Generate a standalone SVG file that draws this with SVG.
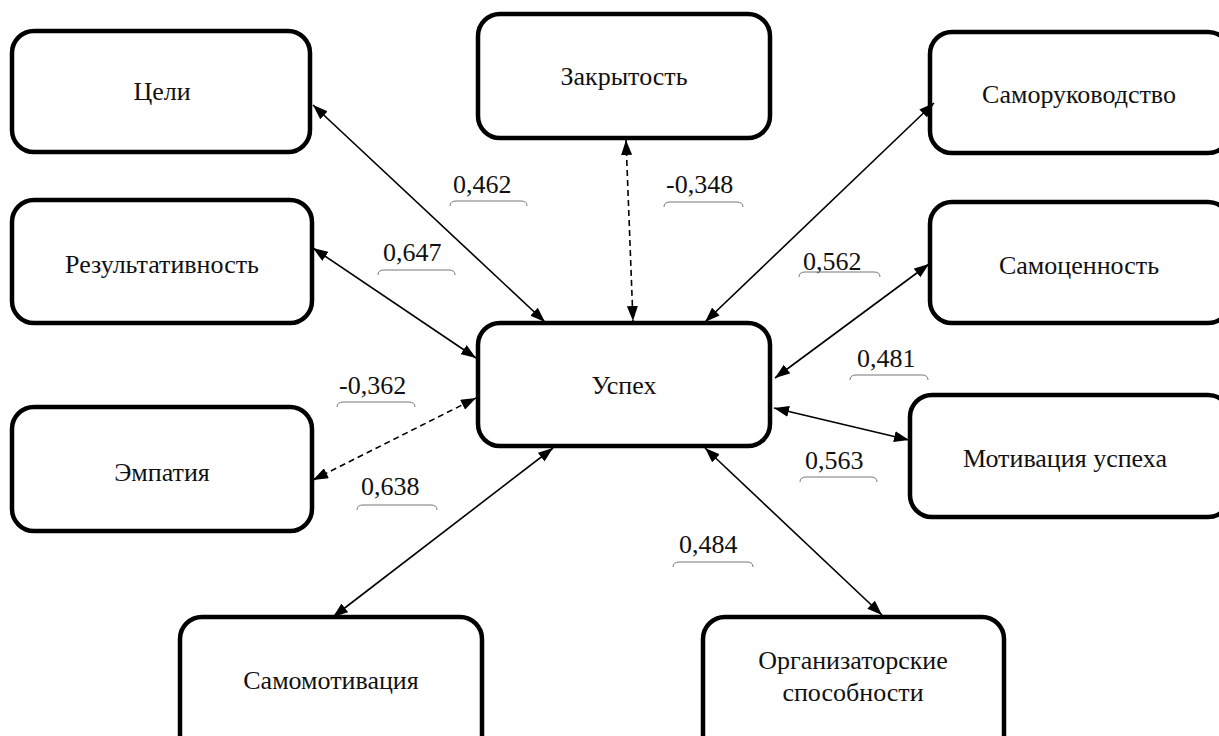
<svg xmlns="http://www.w3.org/2000/svg" width="1219" height="736" viewBox="0 0 1219 736">
<style>
.box{fill:#fff;stroke:#000;stroke-width:4.5}
.t{font-size:26px;fill:#111;text-anchor:middle}
.lbl{font-size:26px;fill:#111}
.br{fill:none;stroke:#777;stroke-width:1}
.c{stroke:#000;stroke-width:1.6;fill:none;marker-start:url(#ah);marker-end:url(#ah)}
.d{stroke-dasharray:6,4}
</style>
<defs>
<marker id="ah" viewBox="0 0 15 11" refX="15" refY="5.5" markerWidth="15" markerHeight="11" markerUnits="userSpaceOnUse" orient="auto-start-reverse">
<path d="M0,0 L15,5.5 L0,11 z" fill="#000"/>
</marker>
</defs>
<rect width="1219" height="736" fill="#fff"/>
<g font-family="Liberation Serif, DejaVu Serif, serif">
<g id="n-celi"><rect class="box" x="12" y="31" width="298" height="121" rx="22"/><text class="t" x="162" y="100">Цели</text></g>
<g id="n-zakrytost"><rect class="box" x="478" y="14" width="292" height="124" rx="22"/><text class="t" x="624" y="85">Закрытость</text></g>
<g id="n-samoruk"><rect class="box" x="930" y="32" width="300" height="121" rx="22"/><text class="t" x="1079" y="103">Саморуководство</text></g>
<g id="n-rezult"><rect class="box" x="12" y="200" width="300" height="123" rx="22"/><text class="t" x="162" y="273">Результативность</text></g>
<g id="n-samocen"><rect class="box" x="930" y="202" width="300" height="121" rx="22"/><text class="t" x="1079" y="274">Самоценность</text></g>
<g id="n-uspeh"><rect class="box" x="478" y="323" width="292" height="123" rx="22"/><text class="t" x="624" y="394">Успех</text></g>
<g id="n-empatiya"><rect class="box" x="12" y="407" width="300" height="124" rx="22"/><text class="t" x="162" y="481">Эмпатия</text></g>
<g id="n-motiv"><rect class="box" x="910" y="395" width="320" height="122" rx="22"/><text class="t" x="1065" y="467">Мотивация успеха</text></g>
<g id="n-samomotiv"><rect class="box" x="180" y="617" width="302" height="140" rx="22"/><text class="t" x="331" y="689">Самомотивация</text></g>
<g id="n-org"><rect class="box" x="703" y="617" width="301" height="140" rx="22"/><text class="t" x="853" y="669">Организаторские</text><text class="t" x="853" y="701">способности</text></g>
<g id="connectors">
<line class="c" x1="313" y1="105" x2="545" y2="322"/>
<line class="c d" x1="626" y1="140" x2="633" y2="321"/>
<line class="c" x1="934" y1="103" x2="705" y2="322"/>
<line class="c" x1="313" y1="248" x2="476" y2="358"/>
<line class="c" x1="929" y1="264" x2="775" y2="378"/>
<line class="c d" x1="313" y1="480" x2="476" y2="398"/>
<line class="c" x1="774" y1="408" x2="909" y2="440"/>
<line class="c" x1="333" y1="617" x2="553" y2="448"/>
<line class="c" x1="705" y1="448" x2="882" y2="615"/>
</g>
<g id="labels">
<text class="lbl" x="453" y="193">0,462</text><path class="br" d="M450,206 Q450,201 456,201 L521,201 Q527,201 527,206"/>
<text class="lbl" x="666" y="193">-0,348</text><path class="br" d="M664,207 Q664,202 670,202 L737,202 Q743,202 743,207"/>
<text class="lbl" x="383" y="261">0,647</text><path class="br" d="M378,275 Q378,270 384,270 L449,270 Q455,270 455,275"/>
<text class="lbl" x="803" y="270">0,562</text><path class="br" d="M799,277 Q799,272 805,272 L874,272 Q880,272 880,277"/>
<text class="lbl" x="857" y="367">0,481</text><path class="br" d="M850,380 Q850,375 856,375 L922,375 Q928,375 928,380"/>
<text class="lbl" x="339" y="394">-0,362</text><path class="br" d="M337,407 Q337,402 343,402 L409,402 Q415,402 415,407"/>
<text class="lbl" x="805" y="469">0,563</text><path class="br" d="M800,482 Q800,477 806,477 L871,477 Q877,477 877,482"/>
<text class="lbl" x="361" y="495">0,638</text><path class="br" d="M357,510 Q357,505 363,505 L431,505 Q437,505 437,510"/>
<text class="lbl" x="679" y="553">0,484</text><path class="br" d="M673,567 Q673,562 679,562 L747,562 Q753,562 753,567"/>
</g>
</g>
</svg>
